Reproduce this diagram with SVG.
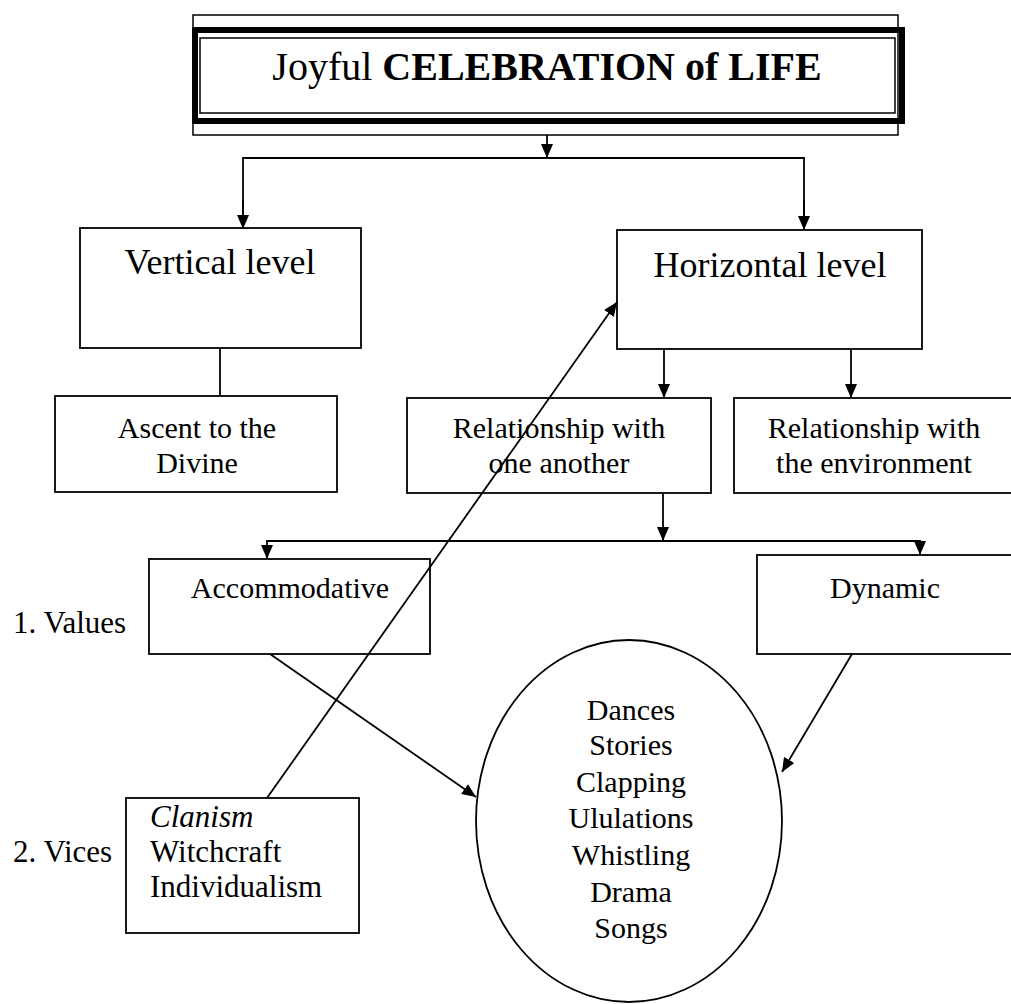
<svg xmlns="http://www.w3.org/2000/svg" width="1011" height="1004" viewBox="0 0 1011 1004">
<style>
text{font-family:"Liberation Serif","Times New Roman",serif;fill:#000}
.box{fill:#fff;stroke:#000;stroke-width:1.8}
.c{fill:none;stroke:#000;stroke-width:1.8}
.t30{font-size:30px;text-anchor:middle}
.t36{font-size:36px;text-anchor:middle}
.lbl{font-size:31px}
.vice{font-size:31px}
</style>
<defs>
<marker id="ah" viewBox="0 0 14 12" refX="14" refY="6" markerWidth="14" markerHeight="12" markerUnits="userSpaceOnUse" orient="auto">
<path d="M0,0 L14,6 L0,12 Z" fill="#000"/>
</marker>
</defs>
<rect width="1011" height="1004" fill="#fff"/>

<g id="title">
<rect x="193" y="15" width="705" height="120" fill="#fff" stroke="#000" stroke-width="1.5"/>
<rect x="195" y="30" width="707" height="91" fill="none" stroke="#000" stroke-width="6"/>
<rect x="200" y="38" width="695" height="75" fill="#fff" stroke="#000" stroke-width="1.5"/>
<text x="547" y="80" font-size="40" text-anchor="middle">Joyful <tspan font-weight="bold">CELEBRATION of LIFE</tspan></text>
</g>

<g id="vertical">
<rect class="box" x="80" y="228" width="281" height="120"/>
<text class="t36" x="220" y="274">Vertical level</text>
</g>

<g id="horizontal">
<rect class="box" x="617" y="230" width="305" height="119"/>
<text class="t36" x="770" y="277">Horizontal level</text>
</g>

<g id="ascent">
<rect class="box" x="55" y="396" width="282" height="96"/>
<text class="t30" x="197" y="438">Ascent to the</text>
<text class="t30" x="197" y="473">Divine</text>
</g>

<g id="rel-another">
<rect class="box" x="407" y="398" width="304" height="95"/>
<text class="t30" x="559" y="438">Relationship with</text>
<text class="t30" x="559" y="473">one another</text>
</g>

<g id="rel-env">
<rect class="box" x="734" y="398" width="290" height="95"/>
<text class="t30" x="874" y="438">Relationship with</text>
<text class="t30" x="874" y="473">the environment</text>
</g>

<g id="accommodative">
<rect class="box" x="149" y="559" width="281" height="95"/>
<text class="t30" x="290" y="598">Accommodative</text>
</g>

<g id="dynamic">
<rect class="box" x="757" y="555" width="270" height="99"/>
<text class="t30" x="885" y="598">Dynamic</text>
</g>

<g id="values-label">
<text class="lbl" x="13" y="633">1. Values</text>
</g>

<g id="vices">
<rect class="box" x="126" y="798" width="233" height="135"/>
<text class="vice" x="150" y="827" font-style="italic">Clanism</text>
<text class="vice" x="150" y="862">Witchcraft</text>
<text class="vice" x="150" y="897">Individualism</text>
</g>

<g id="vices-label">
<text class="lbl" x="13" y="862">2. Vices</text>
</g>

<g id="activities">
<ellipse cx="629" cy="821" rx="153" ry="181" fill="#fff" stroke="#000" stroke-width="1.8"/>
<text class="t30" x="631" y="720">Dances</text>
<text class="t30" x="631" y="755">Stories</text>
<text class="t30" x="631" y="792">Clapping</text>
<text class="t30" x="631" y="828">Ululations</text>
<text class="t30" x="631" y="865">Whistling</text>
<text class="t30" x="631" y="902">Drama</text>
<text class="t30" x="631" y="938">Songs</text>
</g>

<g id="connectors">
<line class="c" x1="547" y1="135" x2="547" y2="158" marker-end="url(#ah)"/>
<polyline class="c" points="243,228 243,158 804,158 804,229"/>
<line class="c" x1="243" y1="200" x2="243" y2="229" marker-end="url(#ah)"/>
<line class="c" x1="804" y1="200" x2="804" y2="230" marker-end="url(#ah)"/>
<line class="c" x1="220" y1="348" x2="220" y2="396"/>
<line class="c" x1="664" y1="349" x2="664" y2="398" marker-end="url(#ah)"/>
<line class="c" x1="851" y1="349" x2="851" y2="398" marker-end="url(#ah)"/>
<line class="c" x1="663" y1="493" x2="663" y2="541" marker-end="url(#ah)"/>
<polyline class="c" points="267,559 267,541 920,541 920,555"/>
<line class="c" x1="267" y1="545" x2="267" y2="559" marker-end="url(#ah)"/>
<line class="c" x1="920" y1="545" x2="920" y2="555" marker-end="url(#ah)"/>
<line class="c" x1="270" y1="654" x2="476" y2="797" marker-end="url(#ah)"/>
<line class="c" x1="852" y1="654" x2="782" y2="772" marker-end="url(#ah)"/>
<line class="c" x1="267" y1="798" x2="617" y2="302" marker-end="url(#ah)"/>
</g>
</svg>
